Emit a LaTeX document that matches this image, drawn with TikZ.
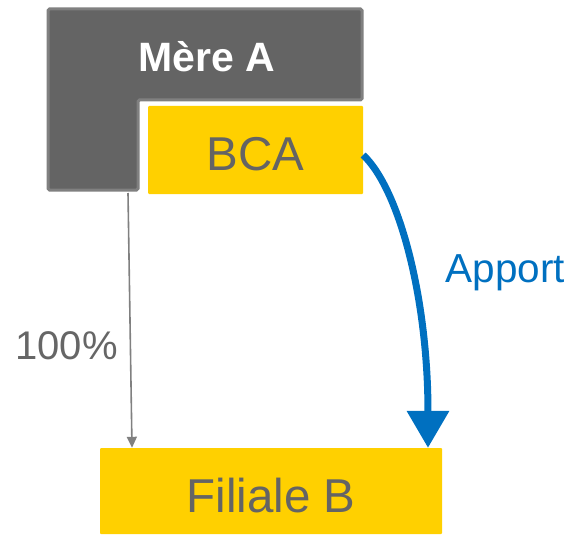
\documentclass[tikz,border=0pt]{standalone}
\usepackage{fontspec}
\setmainfont{Liberation Sans}
\usetikzlibrary{arrows.meta}
\definecolor{dgray}{HTML}{646464}
\definecolor{bgray}{HTML}{808080}
\definecolor{gold}{HTML}{FFD000}
\definecolor{tgray}{HTML}{666666}
\definecolor{blue}{HTML}{0070C0}
\tikzset{
  goldbox/.style={fill=gold, draw=none, rounded corners=1pt, inner sep=0pt},
  lbl/.style={inner sep=0pt, anchor=base},
}
\begin{document}
\begin{tikzpicture}[x=1pt,y=-1pt]
\useasboundingbox (0,0) rectangle (571,535);
% L-shape Mere A
\draw[fill=dgray, draw=bgray, line width=3pt, rounded corners=1.5pt]
  (48,9) -- (362,9) -- (362,100) -- (138,100) -- (138,190) -- (48,190) -- cycle;
\node[lbl, text=white, font=\bfseries\fontsize{41}{41}\selectfont] (mere) at (207,72) {Mère A};
\coordinate (merebot) at (128,193);
% BCA
\node[goldbox, minimum width=215pt, minimum height=88pt] (bca) at (255.5,150) {};
\node[lbl, text=dgray, font=\fontsize{47.5}{47.5}\selectfont] (bcat) at (255.5,170) {BCA};
% Filiale B
\node[goldbox, minimum width=342pt, minimum height=86pt] (fil) at (271,491) {};
\node[lbl, text=dgray, font=\fontsize{47.5}{47.5}\selectfont] (filt) at (271,512) {Filiale B};
% gray arrow
\draw[bgray, line width=1.6pt, -{Triangle[length=11pt,width=10pt]}]
  (merebot) -- ([xshift=-139pt]fil.north);
\node[lbl, text=tgray, font=\fontsize{40}{40}\selectfont] (pct) at (66.5,359) {100\%};
% blue arrow
\draw[blue, line width=7pt, -{Triangle[length=37pt,width=41pt]}]
  ([yshift=-5pt]bca.east) .. controls (400,190) and (428,300) .. ([xshift=157pt]fil.north);
\node[lbl, text=blue, font=\fontsize{40.5}{40.5}\selectfont] (app) at (505.5,282) {Apport};
\end{tikzpicture}
\end{document}
